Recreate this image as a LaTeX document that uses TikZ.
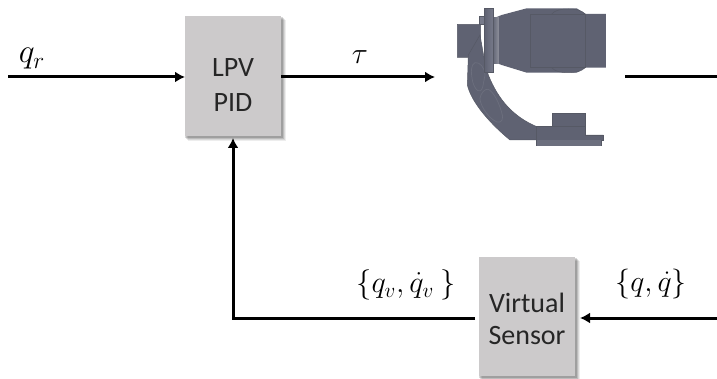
\documentclass[tikz,border=0pt]{standalone}
\usepackage{fontspec}
\usepackage{graphicx}
\setmainfont{Carlito}
\usetikzlibrary{arrows.meta}
\definecolor{boxgray}{HTML}{CCCACB}
\definecolor{robA}{HTML}{5F6272}
\definecolor{robB}{HTML}{565965}
\definecolor{robC}{HTML}{777A8A}
\definecolor{robD}{HTML}{6C6F7E}
\tikzset{
  x=1pt,y=-1pt,
  block/.style={fill=boxgray,minimum width=96pt,minimum height=120pt,inner sep=0pt,align=center,font=\fontsize{28}{35}\selectfont,text=black!85},
  wire/.style={line width=3pt,black},
  arrowwire/.style={wire,-{Latex[length=10pt,width=11pt]}},
  sig/.style={inner sep=0pt,font=\fontsize{24}{28}\selectfont},
  robpart/.style={fill=robA,draw=robB,line width=0.5pt},
  pocket/.style={fill=robA,draw=robD,line width=0.7pt},
}
\begin{document}
\begin{tikzpicture}
\useasboundingbox (0,0) rectangle (717,379);
\fill[white] (0,0) rectangle (717,379);
% soft shadows
\foreach \o/\a in {5/.07,4/.09,3/.12,2/.15}{
  \fill[black,opacity=\a] (185+\o-2,16+\o-1) rectangle (281+\o,136+\o);
  \fill[black,opacity=\a] (479+\o-2,257+\o-1) rectangle (575+\o,376+\o);
}
\node[block] (pid) at (233,76) {\rule{0pt}{36pt}LPV\\PID};
\node[block,minimum height=119pt] (vs) at (527,316.5) {\rule{0pt}{24pt}Virtual\\[-3pt]Sensor};
% connectors
\coordinate (in) at (8,77);
\coordinate (pidE) at (281,77);
\coordinate (robI) at (435,77);
\coordinate (robO) at (625,77);
\coordinate (outE) at (717,77);
\coordinate (fbR) at (717,318);
\coordinate (vsE) at (580,318);
\coordinate (vsW) at (475,318);
\coordinate (corner) at (233,318);
\coordinate (pidS) at (233,138);
\draw[arrowwire] (in) -- (185,77);
\draw[arrowwire] (pidE) -- (robI);
\draw[wire] (robO) -- (outE);
\draw[arrowwire] (fbR) -- (vsE);
\draw[arrowwire] (vsW) -- (corner) -- (pidS);
% labels
\node[sig] (qr) at (32,59) {\scalebox{1.35}{$q_r$}};
\node[sig] (tau) at (360,57) {\scalebox{1.2}{$\tau$}};
\node[sig] (qv) at (406,285) {\scalebox{1.22}{$\{q_v,\dot q_v\ \}$}};
\node[sig] (qq) at (651,284) {\scalebox{1.2}{$\{q,\dot q\}$}};
% robot
\begin{scope}[shift={(430,0)},x=0.3333pt,y=-0.3333pt]
  \path[robpart] (82,73) -- (152,73) -- (152,125) -- (125,172) -- (82,172) -- cycle;
  \path[robpart] (150,105) -- (115,165) -- (112,255) .. controls (125,310) and (185,375) .. (240,420) -- (320,420) -- (320,380) .. controls (250,350) and (205,300) .. (175,225) -- (165,190) -- cycle;
  \path[robpart] (320,380) -- (367,380) -- (367,340) -- (465,340) -- (465,405) -- (520,405) -- (520,420) -- (513,420) -- (513,437) -- (320,437) -- cycle;
  \draw[robB,line width=0.5pt] (367,380) -- (465,380);
  \path[fill=robD] (320,420) rectangle (513,437);
  \path[pocket] (135,188) .. controls (150,185) and (165,205) .. (165,225) -- (158,262) .. controls (150,285) and (135,270) .. (128,245) .. controls (122,215) and (122,195) .. (135,188) -- cycle;
  \path[pocket] (175,268) .. controls (190,275) and (210,310) .. (218,350) .. controls (218,368) and (205,372) .. (190,360) .. controls (170,345) and (150,315) .. (150,295) .. controls (152,280) and (165,265) .. (175,268) -- cycle;
  \path[robpart,draw=none] (190,55) -- (215,45) -- (290,25) -- (440,25) -- (468,42) -- (528,42) -- (528,203) -- (468,203) -- (440,218) -- (290,218) -- (215,195) -- (190,185) -- cycle;
  \draw[robB,line width=0.5pt] (302,42) rectangle (465,203);
  \draw[robB,line width=0.5pt] (365,42) .. controls (375,30) and (395,27) .. (415,27) .. controls (435,27) and (455,30) .. (465,42);
  \draw[robB,line width=0.5pt] (365,203) .. controls (375,215) and (395,218) .. (415,218) .. controls (435,218) and (455,215) .. (465,203);
  \path[fill=robC,draw=robB,line width=0.4pt] (147,50) rectangle (165,72);
  \path[left color=robA,right color=robA!70!white,draw=none] (187,52) rectangle (207,190);
  \path[left color=robA,right color=robC,draw=robB,line width=0.4pt] (163,25) rectangle (190,218);
\end{scope}
\end{tikzpicture}
\end{document}
